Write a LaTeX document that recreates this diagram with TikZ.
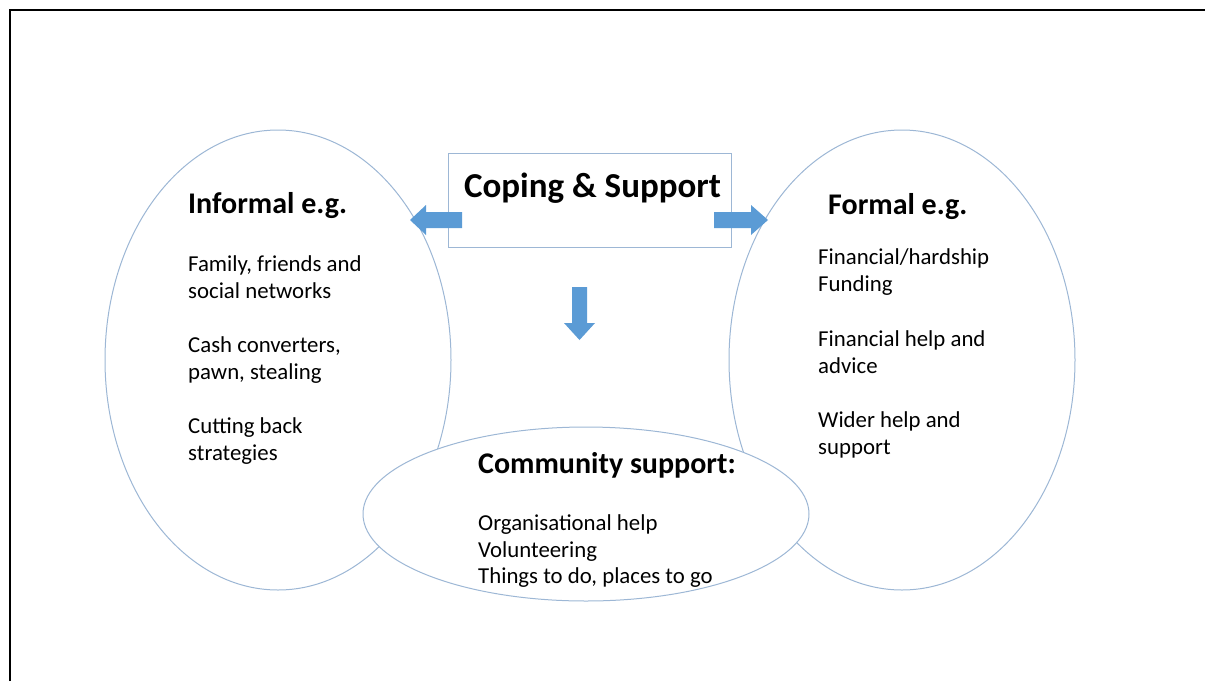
\documentclass[tikz,border=0pt]{standalone}
\usepackage{fontspec}
\setmainfont{Carlito}
\definecolor{edgeblue}{HTML}{9DB7D5}
\definecolor{arrowblue}{HTML}{5B9BD5}
\tikzset{
  oval/.style={draw=edgeblue, line width=1pt, fill=white},
  blockarrow/.style={fill=arrowblue, draw=none},
  txt/.style={anchor=base west, inner sep=0pt, font=\fontsize{22.8}{27}\selectfont},
  head/.style={anchor=base west, inner sep=0pt, font=\fontsize{30}{35}\selectfont\bfseries},
}
\begin{document}
\begin{tikzpicture}[x=1pt,y=-1pt]
\useasboundingbox (0,0) rectangle (1205,681);
% frame
\draw[line width=2.5pt] (10,681) -- (10,10) -- (1205,10);
% ellipses
\draw[oval] (278,360) ellipse [x radius=173, y radius=230];
\draw[oval] (902,360) ellipse [x radius=173, y radius=230];
\draw[oval] (586,514) ellipse [x radius=223, y radius=87];
% central box
\node[draw=edgeblue, line width=1pt, fill=white, minimum width=283pt, minimum height=94pt, inner sep=0pt] (box) at (589.5,200) {};
\node[anchor=base, inner sep=0pt, font=\fontsize{35}{40}\selectfont\bfseries] (title) at (592.5,197) {Coping \& Support};
% block arrows
\fill[blockarrow] (462,212) -- (426,212) -- (426,205) -- (410,220) -- (426,235) -- (426,228) -- (462,228) -- cycle;
\fill[blockarrow] (714,212) -- (751,212) -- (751,205) -- (768,220) -- (751,235) -- (751,228) -- (714,228) -- cycle;
\fill[blockarrow] (572,287) -- (587,287) -- (587,323) -- (595,323) -- (579.5,340) -- (564,323) -- (572,323) -- cycle;
% left texts
\node[head] (inf) at (188,213) {Informal e.g.};
\node[txt] (l1) at (188,271) {Family, friends and};
\node[txt] (l2) at (188,298) {social networks};
\node[txt] (l3) at (188,352) {Cash converters,};
\node[txt] (l4) at (188,379) {pawn, stealing};
\node[txt] (l5) at (188,433) {Cutting back};
\node[txt] (l6) at (188,460) {strategies};
% right texts
\node[head] (form) at (828,214) {Formal e.g.};
\node[txt] (r1) at (818,264) {Financial/hardship};
\node[txt] (r2) at (818,291) {Funding};
\node[txt] (r3) at (818,346) {Financial help and};
\node[txt] (r4) at (818,373) {advice};
\node[txt] (r5) at (818,427) {Wider help and};
\node[txt] (r6) at (818,454) {support};
% community texts
\node[head] (comm) at (478,473) {Community support:};
\node[txt] (c1) at (478,530) {Organisational help};
\node[txt] (c2) at (478,557) {Volunteering};
\node[txt] (c3) at (478,583) {Things to do, places to go};
\end{tikzpicture}
\end{document}
